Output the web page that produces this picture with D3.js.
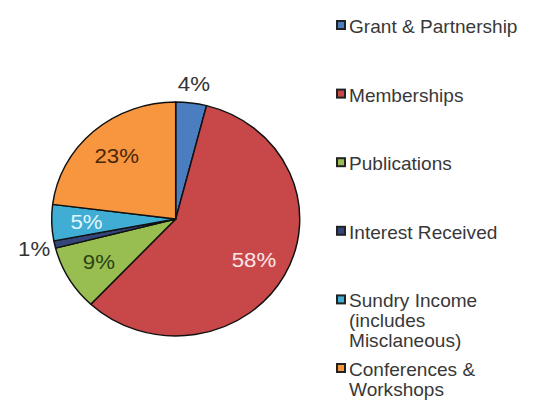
<!DOCTYPE html>
<html>
<head>
<meta charset="utf-8">
<script src="https://cdn.jsdelivr.net/npm/d3@7"></script>
<style>
  body { margin: 0; background: #fff; }
  text { font-family: "Liberation Sans", Arial, sans-serif; }
</style>
</head>
<body>
<div id="chart"></div>
<script>
// Income categories and their share (%)
var categories = ["Grant & Partnership", "Memberships", "Publications", "Interest Received",
                  "Sundry Income (includes Misclaneous)", "Conferences & Workshops"];
var values = [4, 58, 9, 1, 5, 23];
var colors = ["#4a7ec0", "#c8484a", "#98bd50", "#34457a", "#40aed4", "#f7963f"];
var labelColors = ["#333333", "#fbe6e6", "#2c4314", "#333333", "#e2f6ff", "#4a2608"];
// legend lines (wrapped like the original)
var legendLines = [["Grant & Partnership"], ["Memberships"], ["Publications"], ["Interest Received"],
                   ["Sundry Income", "(includes", "Misclaneous)"], ["Conferences &", "Workshops"]];

const width = 534;
const height = 400;
const radius = 117;
const stretch = 1.06; // the original is a little wider than tall

const svg = d3.select("#chart")
              .append("svg")
              .attr("width", width)
              .attr("height", height);

const data = categories.map(function(c, i) { return {name: c, value: values[i], color: colors[i], label: labelColors[i]}; });

const pie = d3.pie().sort(null).value(function(d) { return d.value; });
const arc = d3.arc().innerRadius(0).outerRadius(radius);
const arcs = pie(data);

const g = svg.append("g")
             .attr("transform", "translate(175.7,219) scale(" + stretch + ",1)");

g.selectAll("path")
 .data(arcs)
 .enter()
 .append("path")
 .attr("d", arc)
 .attr("fill", function(d) { return d.data.color; })
 .attr("stroke", "#111")
 .attr("stroke-width", 1.4)
 .attr("stroke-linejoin", "round");

// percent labels: small slices go outside
const inArc = d3.arc().innerRadius(radius * 0.72).outerRadius(radius * 0.72);
const outArc = d3.arc().innerRadius(radius * 1.17).outerRadius(radius * 1.17);

g.selectAll(".pct")
 .data(arcs)
 .enter()
 .append("text")
 .attr("class", "pct")
 .attr("transform", function(d) {
    var p = d.data.value < 5 ? outArc.centroid(d) : inArc.centroid(d);
    return "translate(" + p[0] + "," + p[1] + ")";
 })
 .attr("text-anchor", "middle")
 .attr("dy", "0.36em")
 .style("font-size", "21px")
 .attr("fill", function(d) { return d.data.label; })
 .text(function(d) { return d.value + "%"; });

// legend
const legendY = d3.scalePoint().domain(d3.range(categories.length)).range([33, 376]);

const lg = svg.append("g")
              .selectAll("g")
              .data(data)
              .enter()
              .append("g")
              .attr("transform", function(d, i) { return "translate(336," + legendY(i) + ")"; });

lg.append("rect")
  .attr("x", 1)
  .attr("y", -12)
  .attr("width", 8)
  .attr("height", 8)
  .attr("fill", function(d) { return d.color; })
  .attr("stroke", "#222")
  .attr("stroke-width", 2);

lg.append("text")
  .attr("transform", "translate(13,0) scale(" + stretch + ",1)")
  .style("font-size", "18px")
  .attr("fill", "#383838")
  .selectAll("tspan")
  .data(function(d, i) { return legendLines[i]; })
  .enter()
  .append("tspan")
  .attr("x", 0)
  .attr("y", function(d, j) { return j * 20; })
  .text(function(d) { return d; });
</script>
</body>
</html>
